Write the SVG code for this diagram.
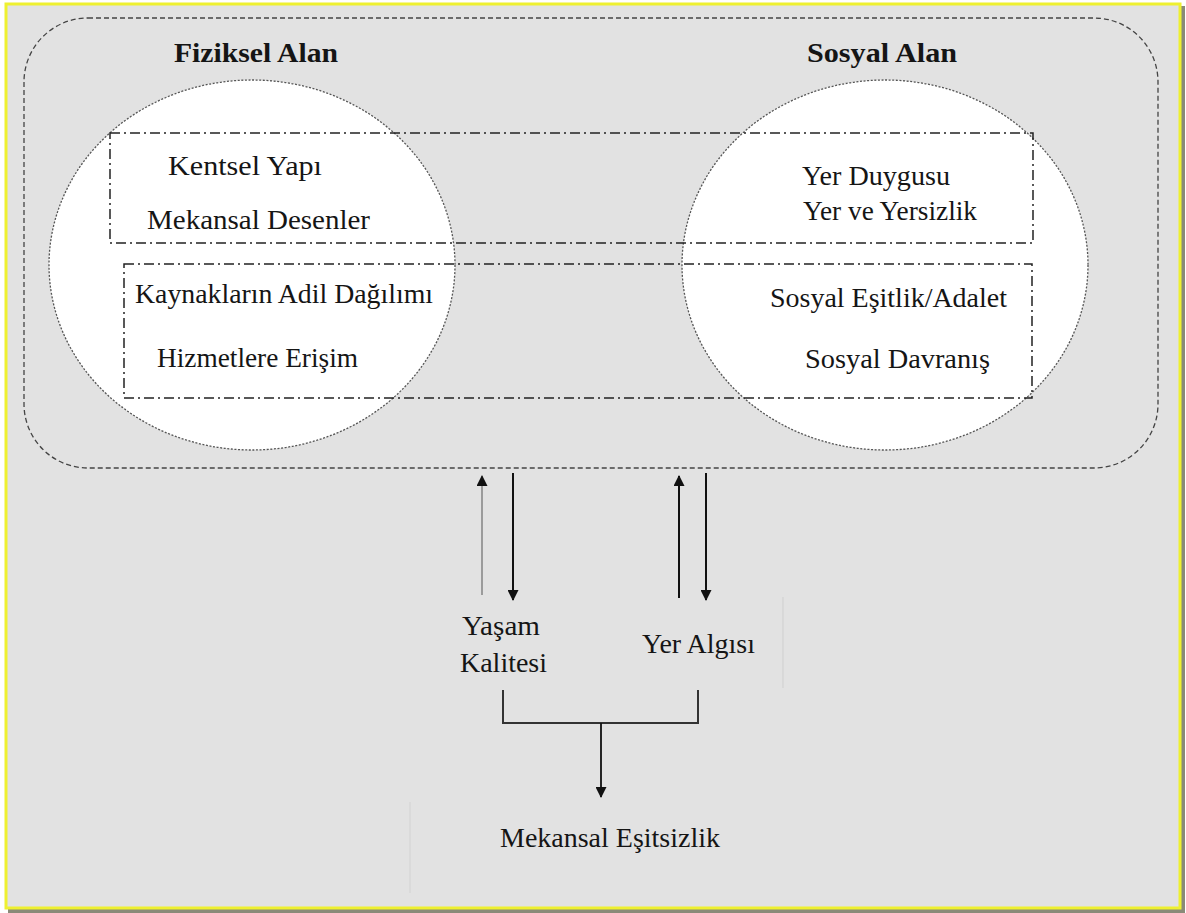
<svg xmlns="http://www.w3.org/2000/svg" width="1186" height="913" viewBox="0 0 1186 913">
<style>
.t{font-family:"Liberation Serif","DejaVu Serif",serif;font-size:27px;fill:#151515}
.b{font-weight:bold;font-size:28px}
.circ{fill:#fff;stroke:#555;stroke-width:1.3;stroke-dasharray:2 1.6}
.dd{fill:none;stroke:#222;stroke-width:1.5;stroke-dasharray:10 4 2 4}
.outer{fill:none;stroke:#444;stroke-width:1.3;stroke-dasharray:5 3}
.ln{fill:none;stroke:#111;stroke-width:2}
</style>
<defs>
<marker id="ahb" viewBox="0 0 10 10" refX="9" refY="5" markerWidth="12" markerHeight="11" orient="auto" markerUnits="userSpaceOnUse">
<path d="M0,0 L10,5 L0,10 z" fill="#111"/>
</marker>
</defs>
<rect x="0" y="0" width="1186" height="913" fill="#fff"/>
<rect x="8" y="6" width="1177" height="907" fill="#8a8a78"/>
<rect x="6" y="4" width="1174" height="904" fill="#e2e2e2" stroke="#eef030" stroke-width="3"/>

<g id="frame">
<rect class="outer" x="24" y="18" width="1134" height="450" rx="64" ry="64"/>
</g>

<g id="fiziksel-alan">
<ellipse class="circ" cx="252" cy="265" rx="203" ry="185"/>
<text class="t b" x="174" y="62" textLength="164" lengthAdjust="spacingAndGlyphs">Fiziksel Alan</text>
</g>

<g id="sosyal-alan">
<ellipse class="circ" cx="885" cy="265" rx="203" ry="185"/>
<text class="t b" x="807" y="62" textLength="150" lengthAdjust="spacingAndGlyphs">Sosyal Alan</text>
</g>

<g id="upper-band">
<rect class="dd" x="110" y="133" width="923" height="110"/>
<text class="t" x="168" y="175" textLength="154" lengthAdjust="spacingAndGlyphs">Kentsel Yapı</text>
<text class="t" x="147" y="229" textLength="223" lengthAdjust="spacingAndGlyphs">Mekansal Desenler</text>
<text class="t" x="802" y="185" textLength="148" lengthAdjust="spacingAndGlyphs">Yer Duygusu</text>
<text class="t" x="803" y="220" textLength="174" lengthAdjust="spacingAndGlyphs">Yer ve Yersizlik</text>
</g>

<g id="lower-band">
<rect class="dd" x="124" y="264" width="908" height="134"/>
<text class="t" x="135" y="303" textLength="298" lengthAdjust="spacingAndGlyphs">Kaynakların Adil Dağılımı</text>
<text class="t" x="157" y="367" textLength="201" lengthAdjust="spacingAndGlyphs">Hizmetlere Erişim</text>
<text class="t" x="770" y="307" textLength="237" lengthAdjust="spacingAndGlyphs">Sosyal Eşitlik/Adalet</text>
<text class="t" x="805" y="368" textLength="185" lengthAdjust="spacingAndGlyphs">Sosyal Davranış</text>
</g>

<g id="yasam-kalitesi">
<text class="t" x="462" y="635" textLength="78" lengthAdjust="spacingAndGlyphs">Yaşam</text>
<text class="t" x="460" y="672" textLength="87" lengthAdjust="spacingAndGlyphs">Kalitesi</text>
</g>

<g id="yer-algisi">
<text class="t" x="642" y="653" textLength="113" lengthAdjust="spacingAndGlyphs">Yer Algısı</text>
</g>

<g id="mekansal-esitsizlik">
<text class="t" x="500" y="847" textLength="220" lengthAdjust="spacingAndGlyphs">Mekansal Eşitsizlik</text>
</g>

<g id="connectors">
<line x1="482" y1="595" x2="482" y2="476" stroke="#8a8a8a" stroke-width="1.6" marker-end="url(#ahb)"/>
<line x1="513" y1="473" x2="513" y2="600" class="ln" marker-end="url(#ahb)"/>
<line x1="679" y1="598" x2="679" y2="476" class="ln" marker-end="url(#ahb)"/>
<line x1="706" y1="473" x2="706" y2="600" class="ln" marker-end="url(#ahb)"/>
<polyline points="503,690 503,723 698,723 698,690" fill="none" stroke="#333" stroke-width="2"/>
<line x1="601" y1="723" x2="601" y2="797" stroke="#111" stroke-width="1.8" marker-end="url(#ahb)"/>
<line x1="783" y1="597" x2="783" y2="688" stroke="#cfcfcf" stroke-width="1"/>
<line x1="410" y1="802" x2="410" y2="893" stroke="#d2d2d2" stroke-width="1"/>
</g>
</svg>
